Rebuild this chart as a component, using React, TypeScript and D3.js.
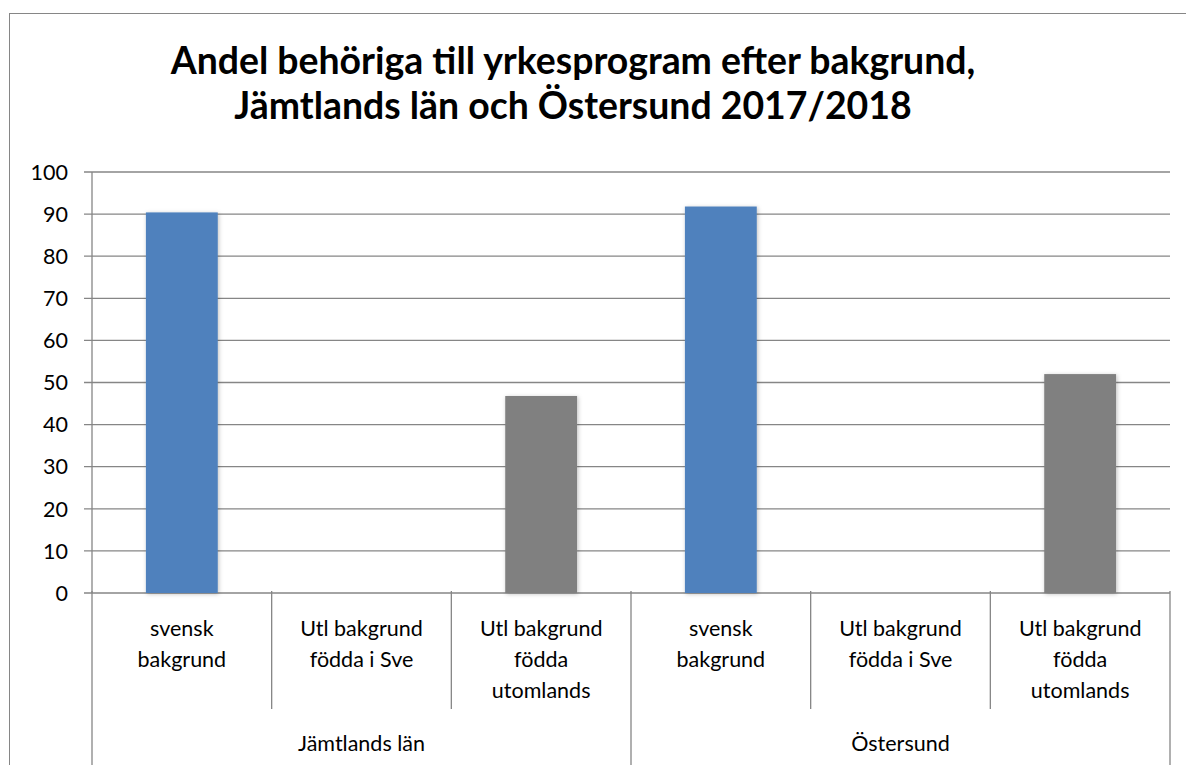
import { useEffect, useRef } from "react";
import * as d3 from "d3";

const titleLines = ["Andel behöriga till yrkesprogram efter bakgrund,", "Jämtlands län och Östersund 2017/2018"];
const groups = ["Jämtlands län", "Östersund"];
const categories = [
  ["svensk", "bakgrund"],
  ["Utl bakgrund", "födda i Sve"],
  ["Utl bakgrund", "födda", "utomlands"],
];
const values = [90.4, null, 46.8, 91.8, null, 52.0];
const barColors = ["#4F81BD", "#4F81BD", "#808080"];
const yTicks = [0, 10, 20, 30, 40, 50, 60, 70, 80, 90, 100];

const W = 1186;
const H = 765;
const FONT = "Lato, 'Open Sans', sans-serif";

export default function App() {
  const svgRef = useRef<SVGSVGElement>(null);

  useEffect(() => {
    const svg = d3.select(svgRef.current);
    svg.selectAll("*").remove();

    const left = 92, right = 1170, top = 172, bottom = 593;
    const grid = "#868686";

    // drop shadow for bars
    const defs = svg.append("defs");
    const f = defs.append("filter").attr("id", "sh").attr("x", "-20%").attr("y", "-5%").attr("width", "140%").attr("height", "110%");
    f.append("feDropShadow").attr("dx", 1).attr("dy", 1).attr("stdDeviation", 2).attr("flood-color", "#000").attr("flood-opacity", 0.25);

    // chart frame
    svg.append("rect").attr("x", 9.5).attr("y", 13.5).attr("width", 1200).attr("height", 800)
      .attr("fill", "#fff").attr("stroke", grid).attr("stroke-width", 1);

    // title
    const title = svg.append("text").attr("text-anchor", "middle").attr("font-family", FONT)
      .attr("font-weight", "bold").attr("font-size", 37.4).attr("fill", "#000");
    titleLines.forEach((t, i) => {
      title.append("tspan").attr("x", 573).attr("y", 74 + i * 45).text(t);
    });

    const flat = groups.flatMap((g, gi) => categories.map((c, ci) => ({ g, gi, c, ci, key: `${gi}-${ci}` })));

    const x = d3.scaleBand().domain(flat.map(d => d.key)).range([left, right]).padding(0);
    const y = d3.scaleLinear().domain([0, 100]).range([bottom, top]);

    // gridlines + tick labels
    const yAxis = svg.append("g");
    yAxis.selectAll("line").data(yTicks).join("line")
      .attr("x1", left - 8).attr("x2", right)
      .attr("y1", d => y(d)).attr("y2", d => y(d))
      .attr("stroke", grid).attr("stroke-width", 1.3);
    yAxis.selectAll("text").data(yTicks).join("text")
      .attr("x", 68).attr("y", d => y(d)).attr("dy", "0.36em")
      .attr("text-anchor", "end").attr("font-family", FONT).attr("font-size", 21.5).attr("fill", "#000")
      .text(d => d);

    // vertical axis line
    svg.append("line").attr("x1", left).attr("x2", left).attr("y1", top).attr("y2", bottom)
      .attr("stroke", grid).attr("stroke-width", 1.3);

    // bars
    const bw = x.bandwidth() * 0.4;
    svg.append("g").selectAll("rect").data(flat.filter((d, i) => values[i] != null)).join("rect")
      .attr("x", d => x(d.key)! + (x.bandwidth() - bw) / 2)
      .attr("width", bw)
      .attr("y", d => y(values[flat.indexOf(d)] as number))
      .attr("height", d => bottom - y(values[flat.indexOf(d)] as number))
      .attr("fill", d => barColors[d.ci])
      .attr("filter", "url(#sh)");

    // category separators
    const bounds = d3.range(flat.length + 1).map(i => left + i * x.bandwidth());
    svg.append("g").selectAll("line").data(bounds).join("line")
      .attr("x1", d => d).attr("x2", d => d)
      .attr("y1", bottom - 2)
      .attr("y2", (d, i) => (i % categories.length === 0 ? H : 709))
      .attr("stroke", grid).attr("stroke-width", 1.3);

    // category labels
    const cl = svg.append("g").attr("font-family", FONT).attr("font-size", 21.5).attr("fill", "#000").attr("text-anchor", "middle");
    flat.forEach(d => {
      const t = cl.append("text");
      d.c.forEach((line, li) => {
        t.append("tspan").attr("x", x(d.key)! + x.bandwidth() / 2).attr("y", 636 + li * 31).text(line);
      });
    });

    // group labels
    const gw = x.bandwidth() * categories.length;
    svg.append("g").selectAll("text").data(groups).join("text")
      .attr("x", (d, i) => left + gw * i + gw / 2).attr("y", 751)
      .attr("text-anchor", "middle").attr("font-family", FONT).attr("font-size", 21.5).attr("fill", "#000")
      .text(d => d);
  }, []);

  return (
    <svg ref={svgRef} width={W} height={H}
      style={{ position: "absolute", left: 0, top: 0, background: "#fff" }} />
  );
}
